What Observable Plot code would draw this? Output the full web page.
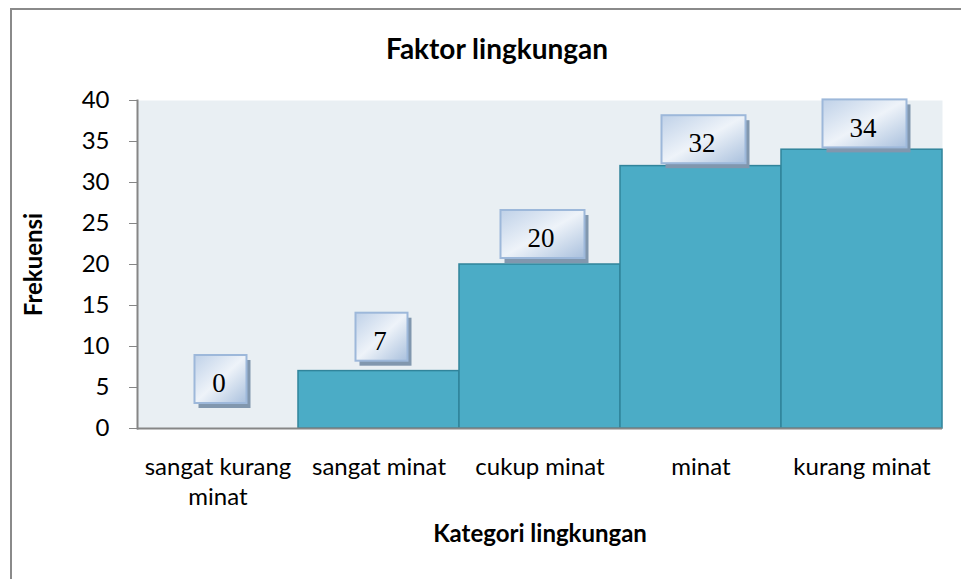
<!DOCTYPE html>
<html><head><meta charset="utf-8">
<script src="https://cdn.jsdelivr.net/npm/d3@7"></script>
<script src="https://cdn.jsdelivr.net/npm/@observablehq/plot@0.6"></script>
<style>
html,body{margin:0;padding:0;background:#fff;overflow:hidden;width:961px;height:579px}
#frame{position:absolute;left:10px;top:8px;width:1200px;height:1200px;border:2px solid #8a8a8a;box-sizing:border-box}
#chart{position:absolute;left:0;top:0}
</style></head><body><div id="frame"></div><div id="chart"></div>
<script>
const categories = ["sangat kurang minat", "sangat minat", "cukup minat", "minat", "kurang minat"];
const frequencies = [0, 7, 20, 32, 34];
const yTicks = [0, 5, 10, 15, 20, 25, 30, 35, 40];
const tickLabels = ["sangat kurang\nminat", "sangat minat", "cukup minat", "minat", "kurang minat"];
const title = "Faktor lingkungan";
const xLabel = "Kategori lingkungan";
const yLabel = "Frekuensi";

const data = categories.map((c, i) => ({category: c, value: frequencies[i], label: tickLabels[i]}));
const font = "Lato, 'Open Sans', sans-serif";
const bandW = (942 - 137) / categories.length;

// label boxes (one mark per label so width follows the digit count)
const boxMarks = [];
data.forEach(d => {
  const w = String(d.value).length > 1 ? 84 : 52;
  const inset = (bandW - w) / 2;
  const lift = d.value === 0 ? -49 : -(36 - d.value * 0.3);
  const common = {x: "category", y1: "value", y2: "value", insetTop: -24, insetBottom: -24,
                  insetLeft: inset + 3, insetRight: inset - 3};
  boxMarks.push(Plot.rect([d], {...common, dx: 4, dy: lift + 5, fill: "#8197AE"}));
  boxMarks.push(Plot.rect([d], {...common, dy: lift, fill: "url(#lblgrad)", stroke: "#9DB8DA", strokeWidth: 2}));
  boxMarks.push(Plot.text([d], {x: "category", y: "value", text: d => String(d.value), dx: 1, dy: lift + 4,
    lineAnchor: "middle", fontSize: 27, fontFamily: "'Liberation Serif', serif", fill: "#000"}));
});

const chart = Plot.plot({
  width: 961,
  height: 579,
  marginLeft: 137,
  marginRight: 19,
  marginTop: 100,
  marginBottom: 151,
  style: {fontFamily: font, background: "transparent", color: "#000"},
  x: {domain: categories, padding: 0, axis: null},
  y: {domain: [0, 40], axis: null},
  marks: [
    Plot.frame({fill: "#E9EFF3", stroke: null}),
    Plot.barY(data, {x: "category", y: "value", fill: "#4BACC6", stroke: "#31849B", strokeWidth: 1.5, insetLeft: 0, insetRight: 0}),
    Plot.ruleY([0], {stroke: "#868686", strokeWidth: 2}),
    Plot.frame({anchor: "left", stroke: "#868686", strokeWidth: 2}),
    Plot.axisY({ticks: yTicks, tickSize: 8, tickPadding: 20, stroke: "#868686", fontSize: 24, fill: "#000", label: null}),
    Plot.axisX({tickSize: 0, tickPadding: 25, fontSize: 24, fill: "#000", lineHeight: 1.25,
      tickFormat: c => tickLabels[categories.indexOf(c)], label: null}),
    ...boxMarks,
    Plot.text([title], {frameAnchor: "top", lineAnchor: "middle", textAnchor: "middle", dx: -43, dy: -50,
      fontSize: 28, fontWeight: "bold", fill: "#000", text: d => d}),
    Plot.text([xLabel], {frameAnchor: "bottom", lineAnchor: "middle", textAnchor: "middle", dy: 106,
      fontSize: 24, fontWeight: "bold", fill: "#000", text: d => d}),
    Plot.text([yLabel], {frameAnchor: "left", lineAnchor: "middle", textAnchor: "middle", dx: -103, rotate: -90,
      fontSize: 24, fontWeight: "bold", fill: "#000", text: d => d})
  ]
});

// gradient definition for label boxes
const svg = d3.select(chart);
const defs = svg.insert("defs", ":first-child");
const g = defs.append("linearGradient").attr("id", "lblgrad").attr("x1", "0").attr("y1", "0").attr("x2", "1").attr("y2", "1");
g.append("stop").attr("offset", "0%").attr("stop-color", "#BFD1E8");
g.append("stop").attr("offset", "50%").attr("stop-color", "#EEF3F9");
g.append("stop").attr("offset", "100%").attr("stop-color", "#A9C0DD");

document.getElementById("chart").appendChild(chart);
</script></body></html>
